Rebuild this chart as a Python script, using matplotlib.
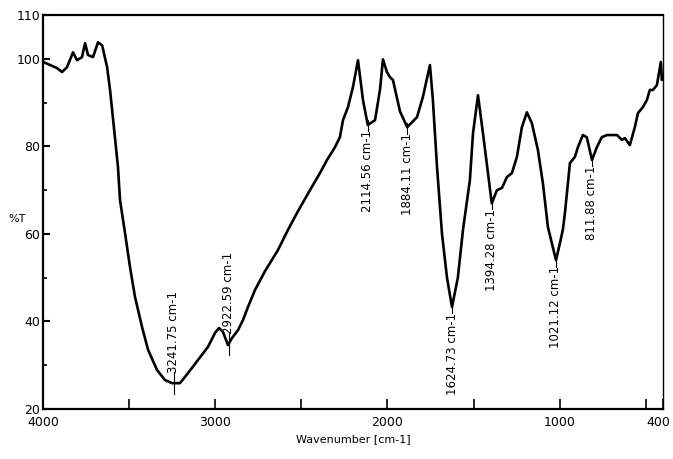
import numpy as np
import matplotlib
matplotlib.use('Agg')
import matplotlib.pyplot as plt
from matplotlib.ticker import MultipleLocator
from matplotlib.transforms import ScaledTranslation

# FTIR spectrum
wavenumber = [4000, 3959, 3919, 3890, 3861, 3826, 3803, 3774, 3756, 3739,
              3710, 3681, 3657, 3628, 3611, 3565, 3553, 3524, 3495, 3466,
              3425, 3390, 3338, 3292, 3251, 3205, 3158, 3100, 3042, 3001,
              2978, 2955, 2926, 2903, 2868, 2839, 2810, 2769, 2711, 2636,
              2578, 2525, 2450, 2392, 2351, 2305, 2276, 2258, 2229, 2200,
              2171, 2142, 2114, 2072, 2043, 2026, 2003,
              1985, 1968, 1927, 1885, 1828, 1794, 1753, 1736, 1712, 1683,
              1654, 1625, 1591, 1561, 1521, 1503, 1474, 1445, 1416, 1394,
              1364, 1335, 1306, 1277, 1248, 1219, 1190, 1161, 1126, 1097,
              1068, 1021, 998, 981, 969, 940, 911, 894, 865, 842,
              812, 784, 755, 725, 667, 638, 621, 592, 563, 545,
              516, 493, 476, 458, 435, 412, 406, 400]
transmittance = [99.3, 98.6, 97.9, 97.0, 98.1, 101.5, 99.7, 100.4, 103.6, 100.9,
                 100.4, 103.8, 103.1, 98.1, 92.9, 75.3, 67.7, 60.2, 52.4, 45.6,
                 38.7, 33.5, 28.9, 26.6, 25.9, 25.9, 28.2, 31.2, 34.2, 37.4,
                 38.5, 37.6, 34.6, 36.2, 38.0, 40.3, 43.3, 47.2, 51.5, 56.3,
                 60.9, 64.8, 70.0, 73.9, 76.9, 79.8, 82.1, 86.0, 89.0, 93.6,
                 99.7, 90.6, 84.9, 86.0, 93.0, 99.9, 97.0,
                 95.8, 95.2, 88.0, 84.4, 86.7, 91.3, 98.6, 90.6, 75.3, 60.0,
                 50.0, 43.3, 50.0, 61.0, 72.3, 83.0, 91.7, 83.0, 73.9, 67.0,
                 70.0, 70.5, 73.0, 73.9, 77.6, 84.4, 87.8, 85.3, 79.2, 71.6,
                 61.6, 54.0, 57.9, 61.0, 64.8, 76.2, 77.6, 79.8, 82.6, 82.1,
                 76.9, 79.8, 82.1, 82.6, 82.6, 81.5, 81.9, 80.3, 84.4, 87.6,
                 89.0, 90.6, 92.9, 92.9, 94.0, 99.3, 95.2, 96.0]

# labelled bands; True = label above the band
peaks = [3241.75, 2922.59, 2114.56, 1884.11, 1624.73, 1394.28, 1021.12, 811.88]
label_above = [True, True, False, False, False, False, False, False]

narrow = ['Liberation Sans Narrow', 'DejaVu Sans']

fig = plt.figure(figsize=(6.73, 4.59), dpi=100)
ax = fig.add_axes([0.064, 0.109, 0.921, 0.858])

ax.plot(wavenumber, transmittance, color='black', lw=1.9, solid_joinstyle='round')

wn_sorted = np.array(wavenumber)[::-1]
t_sorted = np.array(transmittance)[::-1]
for pk, above in zip(peaks, label_above):
    tv = np.interp(pk, wn_sorted, t_sorted)
    txt = '%.2f cm-1' % pk
    if above:
        ax.plot([pk, pk], [tv - 2.5, tv + 2.5], color='black', lw=0.8)
        ax.text(pk, tv + 2.3, txt, rotation=90, ha='center', va='bottom',
                fontsize=8.5, family='DejaVu Sans')
    else:
        ax.plot([pk, pk], [tv + 1.0, tv - 1.5], color='black', lw=0.8)
        ax.text(pk, tv - 1.3, txt, rotation=90, ha='center', va='top',
                fontsize=8.5, family='DejaVu Sans')

ax.set_xlim(4000, 400)
ax.set_ylim(20, 110)
ax.set_xticks([4000, 3000, 2000, 1000, 400])
ax.set_xticklabels(['4000', '3000', '2000', '1000', '400'])
ax.xaxis.set_minor_locator(MultipleLocator(500))
ax.set_yticks([20, 40, 60, 80, 100, 110])
ax.yaxis.set_minor_locator(MultipleLocator(10))
ax.tick_params(axis='x', which='both', direction='in', length=7, width=1.2, pad=5,
               top=False)
ax.tick_params(axis='y', which='major', direction='in', length=5, width=1.5, pad=2,
               right=False)
ax.tick_params(axis='y', which='minor', direction='in', length=3, width=1.2,
               right=False)
for lab in ax.get_xticklabels() + ax.get_yticklabels():
    lab.set_family(narrow)
    lab.set_fontsize(9)
# keep the last x label inside the figure
last = ax.get_xticklabels()[-1]
last.set_horizontalalignment('right')
last.set_transform(last.get_transform() + ScaledTranslation(7 / 100, 0, fig.dpi_scale_trans))

for side in ['top', 'bottom', 'left']:
    ax.spines[side].set_linewidth(1.6)
ax.spines['right'].set_linewidth(1.0)

ax.set_xlabel('Wavenumber [cm-1]', family=narrow, fontsize=8, labelpad=4)
ax.set_ylabel('%T', family=narrow, fontsize=8, rotation=0)
ax.yaxis.set_label_coords(-0.042, 0.47)

fig.savefig('out.png', dpi=100)
